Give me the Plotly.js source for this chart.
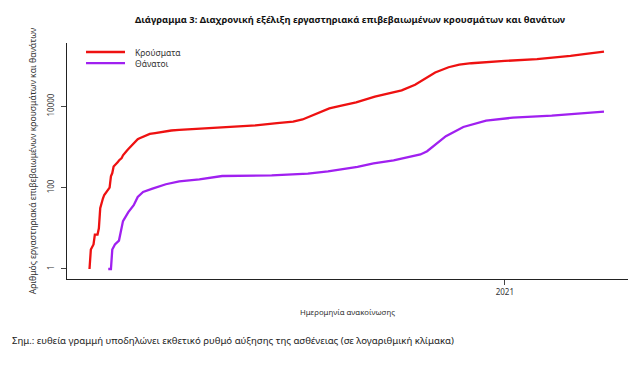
<!DOCTYPE html>
<html>
<head>
<meta charset="utf-8">
<script src="https://cdn.plot.ly/plotly-3.0.1.min.js"></script>
<style>
  html, body { margin: 0; padding: 0; background: #ffffff; }
  #chart { width: 633px; height: 367px; }
</style>
</head>
<body>
<div id="chart"></div>
<script>
const caseDates = [
  '2020-02-26','2020-02-27','2020-02-29','2020-03-01','2020-03-03','2020-03-04','2020-03-05','2020-03-06',
  '2020-03-07','2020-03-08','2020-03-09','2020-03-10','2020-03-11','2020-03-12','2020-03-13','2020-03-14',
  '2020-03-15','2020-03-16','2020-03-17','2020-03-18','2020-03-19','2020-03-20','2020-03-21','2020-03-22',
  '2020-03-23','2020-03-24','2020-03-25','2020-03-26','2020-03-27','2020-03-28','2020-03-29','2020-03-30',
  '2020-03-31','2020-04-01','2020-04-02','2020-04-03','2020-04-05','2020-04-08','2020-04-11','2020-04-15',
  '2020-04-21','2020-04-27','2020-05-03','2020-05-10','2020-05-18','2020-06-04','2020-06-15','2020-06-29',
  '2020-07-15','2020-07-27','2020-08-03','2020-08-10','2020-08-16','2020-08-23','2020-09-01','2020-09-12',
  '2020-09-26','2020-10-06','2020-10-16','2020-10-26','2020-11-03','2020-11-10','2020-11-20','2020-11-28',
  '2020-12-07','2020-12-20','2021-01-01','2021-01-25','2021-02-10','2021-02-19','2021-03-01','2021-03-16'
];
const caseValues = [
  1, 3, 4, 7, 7, 10, 31, 45,
  54, 66, 73, 86, 90, 100, 190, 228,
  331, 352, 387, 418, 464, 495, 530, 624,
  695, 743, 821, 892, 966, 1061, 1156, 1212,
  1314, 1415, 1544, 1613, 1735, 1884, 2081, 2192,
  2401, 2534, 2626, 2716, 2834, 2967, 3121, 3376,
  3826, 4193, 4737, 5942, 7075, 8819, 10317, 12452,
  17228, 20541, 24480, 33650, 49000, 67600, 90800, 105000,
  114000, 123000, 130000, 143000, 158000, 172000, 190000, 220000
];

// Cumulative deaths
const deathDates = [
  '2020-03-11','2020-03-13','2020-03-14','2020-03-16','2020-03-19','2020-03-20','2020-03-22','2020-03-26',
  '2020-03-30','2020-04-02','2020-04-06','2020-04-13','2020-04-23','2020-05-03','2020-05-18','2020-06-04',
  '2020-07-11','2020-08-07','2020-08-22','2020-09-13','2020-09-25','2020-10-10','2020-10-30','2020-11-04',
  '2020-11-18','2020-12-01','2020-12-18','2021-01-07','2021-02-05','2021-03-16'
];
const deathValues = [
  1, 1, 3, 4, 5, 7, 15, 25,
  37, 59, 78, 94, 121, 143, 160, 193,
  200, 220, 251, 325, 393, 465, 653, 783,
  1835, 3090, 4420, 5240, 5870, 7360
];

const seriesNames = ['Κρούσματα', 'Θάνατοι'];
const seriesColors = ['#ee1111', '#a020f0'];
const yTickVals = [1, 100, 10000];
const yTickText = ['1', '100', '10000'];
const xTickVals = ['2021-01-01'];
const xTickText = ['2021'];

const FONT = 'Noto Sans, Open Sans, sans-serif';

const traces = [
  {
    x: caseDates, y: caseValues, name: seriesNames[0],
    type: 'scatter', mode: 'lines',
    line: { color: seriesColors[0], width: 2.3 }
  },
  {
    x: deathDates, y: deathValues, name: seriesNames[1],
    type: 'scatter', mode: 'lines',
    line: { color: seriesColors[1], width: 2.3 }
  }
];

// Legend drawn as compact key (lines + labels) in paper coordinates
const legendRowsY = [0.9618, 0.9151];
const legendShapes = seriesNames.map((n, i) => ({
  type: 'line', xref: 'paper', yref: 'paper',
  x0: 0.0339, x1: 0.1034, y0: legendRowsY[i], y1: legendRowsY[i],
  line: { color: seriesColors[i], width: 2.3 }
}));
const legendLabels = seriesNames.map((n, i) => ({
  xref: 'paper', yref: 'paper', x: 0.1176, y: legendRowsY[i],
  xanchor: 'left', yanchor: 'middle', showarrow: false,
  text: n, font: { family: FONT, size: 8.5, color: '#333333' }
}));

const layout = {
  width: 633, height: 367,
  margin: { l: 67, r: 5, t: 43, b: 88 },
  paper_bgcolor: '#ffffff', plot_bgcolor: '#ffffff',
  font: { family: FONT, color: '#333333', size: 9 },
  title: {
    text: '<b>Διάγραμμα 3: Διαχρονική εξέλιξη εργαστηριακά επιβεβαιωμένων κρουσμάτων και θανάτων</b>',
    font: { family: FONT, size: 9.4, color: '#111111' },
    x: 0.553, xanchor: 'center', y: 0.945, yanchor: 'middle'
  },
  showlegend: false,
  xaxis: {
    type: 'date',
    range: ['2020-02-09 05:00', '2021-04-02 22:00'],
    showgrid: false, zeroline: false,
    showline: true, linecolor: '#222222', linewidth: 1.3,
    ticks: 'outside', ticklen: 5, tickcolor: '#444444', tickwidth: 1,
    tickmode: 'array', tickvals: xTickVals, ticktext: xTickText,
    tickfont: { family: FONT, size: 8, color: '#333333' },
    title: { text: 'Ημερομηνία ανακοίνωσης', font: { family: FONT, size: 7.8, color: '#333333' }, standoff: 13 }
  },
  yaxis: {
    type: 'log',
    range: [-0.246, 5.554],
    showgrid: false, zeroline: false,
    showline: true, linecolor: '#222222', linewidth: 1.3,
    ticks: 'outside', ticklen: 5, tickcolor: '#444444', tickwidth: 1,
    tickmode: 'array', tickvals: yTickVals, ticktext: yTickText,
    tickangle: -90, ticklabelstandoff: 4,
    tickfont: { family: FONT, size: 8, color: '#333333' },
    title: { text: 'Αριθμός εργαστηριακά επιβεβαιωμένων κρουσμάτων και θανάτων', font: { family: FONT, size: 8.6, color: '#333333' }, standoff: 6 }
  },
  shapes: legendShapes,
  annotations: legendLabels.concat([
    {
      xref: 'paper', yref: 'paper', x: -0.1016, y: -0.261, xanchor: 'left', yanchor: 'middle',
      showarrow: false,
      text: 'Σημ.: ευθεία γραμμή υποδηλώνει εκθετικό ρυθμό αύξησης της ασθένειας (σε λογαριθμική κλίμακα)',
      font: { family: FONT, size: 9.6, color: '#222222' }
    }
  ])
};

Plotly.newPlot('chart', traces, layout, { displayModeBar: false, staticPlot: true });
</script>
</body>
</html>
